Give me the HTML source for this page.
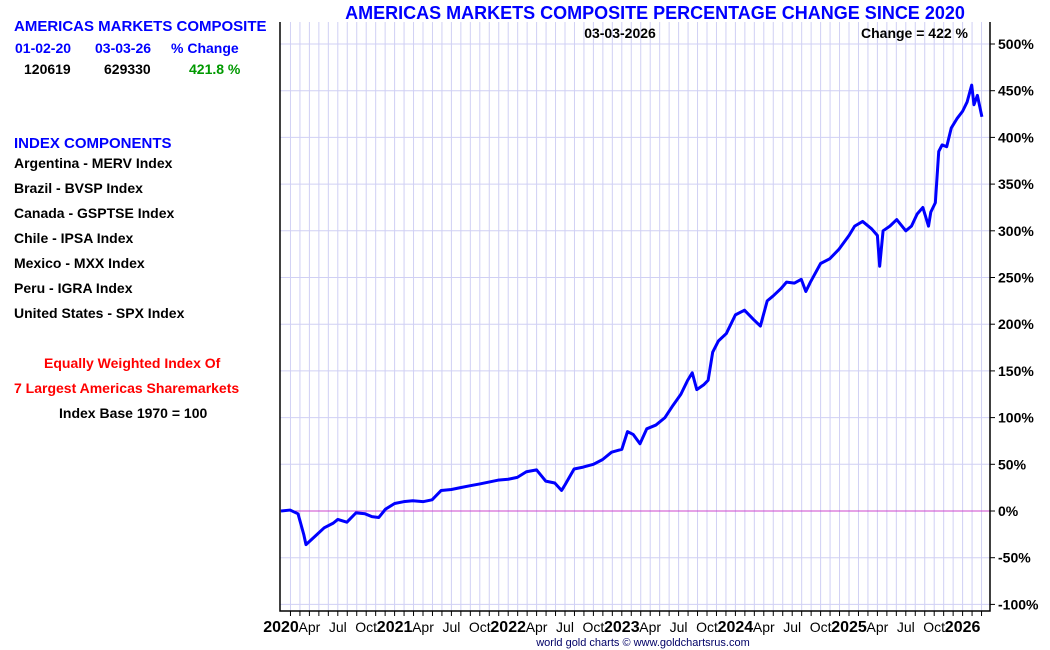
<!DOCTYPE html>
<html><head><meta charset="utf-8">
<style>
body{margin:0;background:#fff;font-family:"Liberation Sans",Arial,sans-serif;}
.t{position:absolute;font-weight:bold;font-size:14px;white-space:nowrap;}
</style></head>
<body>
<div style="position:relative;width:1050px;height:650px;overflow:hidden">
<div class="t" style="left:14px;top:18px;color:#0000ff;font-size:15px">AMERICAS MARKETS COMPOSITE</div>
<div class="t" style="left:15px;top:40px;color:#0000ff">01-02-20</div>
<div class="t" style="left:95px;top:40px;color:#0000ff">03-03-26</div>
<div class="t" style="left:171px;top:40px;color:#0000ff">% Change</div>
<div class="t" style="left:24px;top:61px;color:#000">120619</div>
<div class="t" style="left:104px;top:61px;color:#000">629330</div>
<div class="t" style="left:189px;top:61px;color:#009900">421.8 %</div>
<div class="t" style="left:14px;top:135px;color:#0000ff;font-size:15px">INDEX COMPONENTS</div>
<div class="t" style="left:14px;top:155px">Argentina - MERV Index</div>
<div class="t" style="left:14px;top:180px">Brazil - BVSP Index</div>
<div class="t" style="left:14px;top:205px">Canada - GSPTSE Index</div>
<div class="t" style="left:14px;top:230px">Chile - IPSA Index</div>
<div class="t" style="left:14px;top:255px">Mexico - MXX Index</div>
<div class="t" style="left:14px;top:280px">Peru - IGRA Index</div>
<div class="t" style="left:14px;top:305px">United States - SPX Index</div>
<div class="t" style="left:44px;top:355px;color:#ff0000">Equally Weighted Index Of</div>
<div class="t" style="left:14px;top:380px;color:#ff0000">7 Largest Americas Sharemarkets</div>
<div class="t" style="left:59px;top:405px">Index Base 1970 = 100</div>
<svg id="c" width="1050" height="650" style="position:absolute;left:0;top:0"></svg>
</div>
<script>
const yTicks=[500,450,400,350,300,250,200,150,100,50,0,-50,-100];
const xLabels=["2020","Apr","Jul","Oct","2021","Apr","Jul","Oct","2022","Apr","Jul","Oct","2023","Apr","Jul","Oct","2024","Apr","Jul","Oct","2025","Apr","Jul","Oct","2026"];
const dates=[2020.0,2020.08,2020.15,2020.2,2020.22,2020.3,2020.38,2020.46,2020.5,2020.58,2020.66,2020.74,2020.8,2020.86,2020.92,2021.0,2021.08,2021.16,2021.25,2021.33,2021.41,2021.5,2021.58,2021.66,2021.75,2021.83,2021.91,2022.0,2022.08,2022.16,2022.25,2022.33,2022.41,2022.47,2022.5,2022.58,2022.66,2022.75,2022.83,2022.91,2023.0,2023.05,2023.1,2023.16,2023.22,2023.3,2023.38,2023.45,2023.52,2023.58,2023.62,2023.66,2023.72,2023.76,2023.8,2023.85,2023.92,2024.0,2024.08,2024.16,2024.22,2024.28,2024.33,2024.4,2024.45,2024.52,2024.58,2024.62,2024.66,2024.75,2024.83,2024.91,2025.0,2025.05,2025.12,2025.2,2025.25,2025.27,2025.3,2025.36,2025.42,2025.5,2025.55,2025.6,2025.65,2025.7,2025.72,2025.76,2025.79,2025.82,2025.86,2025.9,2025.95,2026.0,2026.04,2026.08,2026.1,2026.13,2026.17];
const values=[0,1,-3,-25,-36,-27,-18,-13,-9,-12,-2,-3,-6,-7,2,8,10,11,10,12,22,23,25,27,29,31,33,34,36,42,44,32,30,22,28,45,47,50,55,63,66,85,82,72,88,92,100,113,125,140,148,130,135,140,170,182,190,210,215,205,198,225,230,238,245,244,248,235,245,265,270,280,295,305,310,302,295,262,300,305,312,300,305,318,325,305,320,330,385,392,390,410,420,428,438,456,435,445,422];
const X0=281,PY=113.6,Y0=511,PP=0.934,L=280,R=990,T=22,B=611;
const xs=d=>X0+(d-2020)*PY, ys=v=>Y0-v*PP;
const s=document.getElementById('c'),NS="http://www.w3.org/2000/svg";
function mk(t,a,p){const e=document.createElementNS(NS,t);for(const k in a)e.setAttribute(k,a[k]);(p||s).appendChild(e);return e;}
// vertical monthly grid
for(let m=1;m<=75;m++){const x=xs(2020+m/12);if(x>R)break;
const g=mk('line',{x1:x,x2:x,y1:T,y2:B,stroke:'#d0d0f4','stroke-width':1});


const tk=mk('line',{x1:x,x2:x,y1:B,y2:B+5,stroke:'#000','stroke-width':1});

}
yTicks.forEach(v=>{const y=ys(v);
const g=mk('line',{x1:L,x2:R,y1:y,y2:y,stroke:v===0?'#cc44cc':'#d0d0f4','stroke-width':1});


const tk=mk('line',{x1:R,x2:R+5,y1:y,y2:y,stroke:'#000'});


const t=mk('text',{x:R+8,y:y+5,'font-size':14,'font-weight':'bold','font-family':'Liberation Sans,sans-serif'});t.textContent=v+'%';

});
xLabels.forEach((l,i)=>{const x=xs(2020+i/4);
const t=mk('text',{x:x,y:632,'text-anchor':'middle','font-size':i%4===0?16:14,'font-weight':i%4===0?'bold':'normal','font-family':'Liberation Sans,sans-serif'});t.textContent=l;

});
const ax=mk('path',{d:`M${L} ${T}V${B}H${R}V${T}`,fill:'none',stroke:'#000','stroke-width':1.5});


const line=mk('polyline',{points:dates.map((d,i)=>xs(d)+','+ys(values[i])).join(' '),fill:'none',stroke:'#0000ff','stroke-width':3,'stroke-linejoin':'round'});


function txt(x,y,str,a,name,extra){const t=mk('text',Object.assign({x:x,y:y,'text-anchor':a,'font-size':14,'font-weight':'bold','font-family':'Liberation Sans,sans-serif'},extra||{}));t.textContent=str;

}
txt(655,19,'AMERICAS MARKETS COMPOSITE PERCENTAGE CHANGE SINCE 2020','middle','chart-title',{fill:'#0000ff','font-size':18});
txt(620,38,'03-03-2026','middle','date-label');
txt(968,38,'Change = 422 %','end','change-label');
txt(643,646,'world gold charts © www.goldchartsrus.com','middle','credit',{'font-size':11,'font-weight':'normal',fill:'#000066'});
</script>
</body></html>
